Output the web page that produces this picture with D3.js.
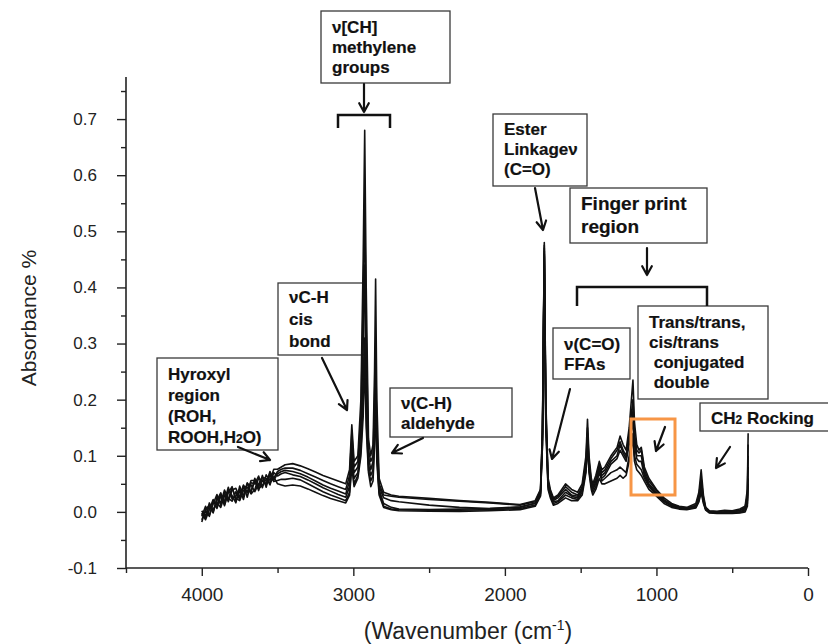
<!DOCTYPE html>
<html>
<head>
<meta charset="utf-8">
<title>FTIR spectra</title>
<script src="https://d3js.org/d3.v7.min.js"></script>
<style>
    html, body { margin: 0; padding: 0; background: #fff; }
    .axis text { font-family: "Liberation Sans", Arial, sans-serif; fill: #222; }
    .note text { font-family: "Liberation Sans", Arial, sans-serif; font-weight: 700; fill: #111; stroke: #111; stroke-width: 0.2px; }
</style>
</head>
<body>
<svg id="chart" width="828" height="644"></svg>
<script>
// wavenumber grid (cm-1), shared by all spectra
const wavenumber = [
    4000, 3975, 3950, 3925, 3900, 3875, 3850, 3825, 3800, 3775, 3750, 3725, 3700, 3675, 3650, 3625, 3600, 3575, 3550, 3525, 3500, 3475, 3450,
    3400, 3350, 3300, 3250, 3200, 3150, 3100, 3050,
    3025, 3010, 2995, 2970, 2950, 2935, 2925, 2915, 2900, 2885, 2870, 2860, 2853, 2845, 2830, 2800, 2750, 2700, 2500, 2300, 2100, 1900, 1800,
    1765, 1752, 1740, 1730, 1715, 1700, 1680, 1650, 1600, 1560, 1520, 1490, 1465, 1455, 1445, 1430, 1420, 1400, 1377, 1360, 1340, 1300,
    1260, 1240, 1220, 1200, 1180, 1155, 1145, 1130, 1115, 1100, 1080, 1050, 1000, 950, 900, 850, 800, 740, 720, 705, 690, 675,
    650, 600, 550, 500, 450, 415, 400, 395
];

// absorbance of the six overlaid samples
const sampleA = [
    -0.008, 0.010, -0.006, 0.014, 0.031, 0.012, 0.035, 0.018, 0.039, 0.042, 0.026, 0.048, 0.026, 0.052, 0.050, 0.064, 0.043, 0.066, 0.056, 0.076, 0.076, 0.080, 0.084,
    0.086, 0.082, 0.077, 0.071, 0.065, 0.06, 0.055, 0.05,
    0.075, 0.155, 0.09, 0.1, 0.2, 0.45, 0.68, 0.4, 0.13, 0.1, 0.12, 0.25, 0.415, 0.2, 0.06, 0.035, 0.03, 0.028, 0.024, 0.02, 0.017, 0.013, 0.02,
    0.04, 0.15, 0.48, 0.2, 0.06, 0.04, 0.025, 0.03, 0.05, 0.04, 0.035, 0.05, 0.1, 0.165, 0.1, 0.06, 0.05, 0.065, 0.09, 0.075, 0.08, 0.1,
    0.115, 0.135, 0.12, 0.11, 0.15, 0.235, 0.16, 0.12, 0.11, 0.115, 0.08, 0.06, 0.04, 0.025, 0.015, 0.01, 0.008, 0.015, 0.035, 0.075, 0.03, 0.008,
    0.002, 0.001, 0.003, 0.002, 0.005, 0.01, 0.04, 0.14
];
const sampleB = [
    0.002, -0.010, 0.016, 0.000, 0.020, 0.034, 0.013, 0.040, 0.029, 0.016, 0.046, 0.028, 0.052, 0.034, 0.060, 0.044, 0.065, 0.044, 0.070, 0.060, 0.072, 0.076, 0.078,
    0.078, 0.074, 0.068, 0.062, 0.056, 0.05, 0.045, 0.04,
    0.065, 0.14, 0.08, 0.09, 0.17, 0.38, 0.55, 0.32, 0.11, 0.09, 0.1, 0.2, 0.3, 0.15, 0.05, 0.03, 0.028, 0.026, 0.022, 0.019, 0.016, 0.012, 0.018,
    0.038, 0.14, 0.475, 0.19, 0.055, 0.035, 0.022, 0.028, 0.045, 0.035, 0.03, 0.045, 0.09, 0.15, 0.09, 0.055, 0.045, 0.06, 0.085, 0.07, 0.075, 0.095,
    0.11, 0.125, 0.11, 0.1, 0.14, 0.2, 0.14, 0.11, 0.105, 0.11, 0.075, 0.055, 0.038, 0.022, 0.013, 0.009, 0.007, 0.012, 0.03, 0.06, 0.025, 0.007,
    0.001, 0.0, 0.002, 0.001, 0.003, 0.008, 0.03, 0.12
];
const sampleC = [
    -0.018, 0.004, 0.012, -0.002, 0.026, 0.016, 0.039, 0.024, 0.019, 0.036, 0.022, 0.046, 0.044, 0.032, 0.040, 0.060, 0.055, 0.050, 0.072, 0.056, 0.068, 0.072, 0.074,
    0.072, 0.068, 0.062, 0.055, 0.048, 0.042, 0.037, 0.032,
    0.055, 0.12, 0.07, 0.08, 0.15, 0.3, 0.44, 0.26, 0.1, 0.075, 0.09, 0.18, 0.27, 0.13, 0.045, 0.025, 0.02, 0.018, 0.012, 0.008, 0.006, 0.008, 0.016,
    0.035, 0.14, 0.47, 0.18, 0.05, 0.03, 0.02, 0.025, 0.04, 0.03, 0.028, 0.04, 0.085, 0.14, 0.085, 0.05, 0.04, 0.055, 0.08, 0.065, 0.07, 0.09,
    0.1, 0.12, 0.105, 0.095, 0.13, 0.18, 0.13, 0.1, 0.1, 0.1, 0.07, 0.05, 0.035, 0.02, 0.012, 0.008, 0.006, 0.01, 0.025, 0.05, 0.02, 0.006,
    0.0, -0.001, 0.0, 0.0, 0.002, 0.006, 0.025, 0.1
];
const sampleD = [
    -0.002, -0.014, 0.004, 0.022, 0.006, 0.028, 0.019, 0.044, 0.023, 0.028, 0.040, 0.022, 0.050, 0.048, 0.036, 0.050, 0.061, 0.060, 0.048, 0.070, 0.064, 0.068, 0.070,
    0.066, 0.063, 0.057, 0.05, 0.043, 0.037, 0.031, 0.026,
    0.045, 0.1, 0.06, 0.07, 0.12, 0.24, 0.31, 0.2, 0.085, 0.065, 0.075, 0.16, 0.25, 0.11, 0.04, 0.015, 0.008, 0.005, 0.004, 0.005, 0.006, 0.009, 0.015,
    0.033, 0.13, 0.465, 0.17, 0.05, 0.03, 0.018, 0.02, 0.035, 0.028, 0.025, 0.04, 0.08, 0.13, 0.08, 0.05, 0.04, 0.05, 0.075, 0.06, 0.065, 0.085,
    0.095, 0.11, 0.1, 0.09, 0.12, 0.16, 0.12, 0.095, 0.09, 0.09, 0.065, 0.048, 0.032, 0.02, 0.012, 0.008, 0.006, 0.01, 0.022, 0.045, 0.02, 0.005,
    0.0, -0.002, -0.001, -0.001, 0.0, 0.004, 0.02, 0.08
];
const sampleE = [
    -0.014, 0.002, -0.008, 0.018, 0.012, 0.032, 0.011, 0.034, 0.045, 0.020, 0.036, 0.042, 0.034, 0.056, 0.056, 0.038, 0.057, 0.048, 0.066, 0.054, 0.056, 0.058, 0.058,
    0.06, 0.057, 0.05, 0.043, 0.036, 0.03, 0.025, 0.02,
    0.035, 0.09, 0.05, 0.065, 0.11, 0.2, 0.3, 0.17, 0.075, 0.055, 0.065, 0.14, 0.22, 0.1, 0.035, 0.01, 0.005, 0.004, 0.003, 0.003, 0.004, 0.006, 0.012,
    0.03, 0.12, 0.46, 0.16, 0.045, 0.028, 0.015, 0.018, 0.03, 0.025, 0.022, 0.035, 0.075, 0.125, 0.075, 0.045, 0.035, 0.045, 0.07, 0.055, 0.06, 0.07,
    0.075, 0.08, 0.075, 0.07, 0.1, 0.14, 0.1, 0.085, 0.08, 0.075, 0.06, 0.045, 0.03, 0.018, 0.01, 0.006, 0.005, 0.008, 0.02, 0.04, 0.018, 0.004,
    -0.001, -0.002, -0.002, -0.002, -0.001, 0.002, 0.015, 0.06
];
const sampleF = [
    -0.004, -0.006, 0.010, 0.004, 0.016, 0.008, 0.029, 0.022, 0.043, 0.024, 0.020, 0.038, 0.038, 0.038, 0.054, 0.042, 0.047, 0.058, 0.052, 0.062, 0.050, 0.048, 0.046,
    0.048, 0.046, 0.041, 0.035, 0.029, 0.024, 0.02, 0.016,
    0.03, 0.08, 0.045, 0.06, 0.1, 0.17, 0.27, 0.15, 0.07, 0.045, 0.055, 0.12, 0.2, 0.09, 0.03, 0.008, 0.004, 0.002, 0.001, 0.001, 0.002, 0.004, 0.01,
    0.028, 0.12, 0.455, 0.15, 0.04, 0.025, 0.012, 0.015, 0.025, 0.02, 0.02, 0.03, 0.07, 0.12, 0.07, 0.04, 0.03, 0.04, 0.06, 0.05, 0.05, 0.055,
    0.06, 0.065, 0.06, 0.065, 0.09, 0.13, 0.09, 0.075, 0.07, 0.065, 0.055, 0.04, 0.028, 0.015, 0.008, 0.005, 0.004, 0.007, 0.018, 0.035, 0.015, 0.003,
    -0.002, -0.003, -0.003, -0.003, -0.002, 0.0, 0.01, 0.05
];
const samples = [sampleF, sampleE, sampleD, sampleC, sampleB, sampleA];

// axis ticks
const xMajorTicks = [4000, 3000, 2000, 1000, 0];
const xMinorTicks = [4500, 3500, 2500, 1500, 500];
const yMajorTicks = [-0.1, 0.0, 0.1, 0.2, 0.3, 0.4, 0.5, 0.6, 0.7];
const yMinorTicks = [-0.05, 0.05, 0.15, 0.25, 0.35, 0.45, 0.55, 0.65, 0.75];

// annotation texts (parts between | are drawn small)
const noteMethylene = ["ν[CH]", "methylene", "groups"];
const noteHydroxyl = ["Hyroxyl", "region", "(ROH,", "ROOH,H|2|O)"];
const noteCis = ["νC-H", "cis", "bond"];
const noteAldehyde = ["ν(C-H)", "aldehyde"];
const noteEster = ["Ester", "Linkageν", "(C=O)"];
const noteFinger = ["Finger print", "region"];
const noteFFA = ["ν(C=O)", "FFAs"];
const noteTrans = ["Trans/trans,", "cis/trans", " conjugated", " double"];
const noteRocking = ["CH|2| Rocking"];

const svg = d3.select("#chart");
const axisFont = "'Liberation Sans', Arial, sans-serif";

const x = d3.scaleLinear().domain([4500, 0]).range([126, 808]);
const y = d3.scaleLinear().domain([-0.1, 0.775]).range([568, 77]);

// ---- axes ----
const axisG = svg.append("g").attr("class", "axis");

axisG.append("g")
    .attr("transform", `translate(0,${y(-0.1)})`)
    .call(d3.axisBottom(x).tickValues(xMajorTicks).tickSize(8).tickPadding(12).tickFormat(d => String(d)))
    .call(g => g.selectAll("text").attr("font-size", 19).attr("font-family", axisFont))
    .call(g => g.select(".domain").attr("stroke", "#222").attr("stroke-width", 1.6).attr("d", `M${x(4500)},0H${x(0)}`));
axisG.append("g")
    .attr("transform", `translate(0,${y(-0.1)})`)
    .call(d3.axisBottom(x).tickValues(xMinorTicks).tickSize(5).tickFormat(""))
    .call(g => g.select(".domain").remove());

axisG.append("g")
    .attr("transform", `translate(${x(4500)},0)`)
    .call(d3.axisLeft(y).tickValues(yMajorTicks).tickSize(9).tickPadding(20).tickFormat(d => d.toFixed(1)))
    .call(g => g.selectAll("text").attr("font-size", 17).attr("font-family", axisFont))
    .call(g => g.select(".domain").attr("stroke", "#222").attr("stroke-width", 1.6).attr("d", `M0,${y(0.775)}V${y(-0.1)}`));
axisG.append("g")
    .attr("transform", `translate(${x(4500)},0)`)
    .call(d3.axisLeft(y).tickValues(yMinorTicks).tickSize(5).tickFormat(""))
    .call(g => g.select(".domain").remove());

axisG.selectAll(".tick line").attr("stroke", "#222").attr("stroke-width", 1.4);

axisG.append("text")
    .attr("transform", "translate(36,318) rotate(-90)")
    .attr("text-anchor", "middle")
    .attr("font-family", axisFont)
    .attr("font-size", 21)
    .text("Absorbance %");

const xLabel = axisG.append("text")
    .attr("x", 468).attr("y", 639)
    .attr("text-anchor", "middle")
    .attr("font-family", axisFont)
    .attr("font-size", 23);
xLabel.append("tspan").text("(Wavenumber (cm");
xLabel.append("tspan").attr("dy", -9).attr("font-size", 14).text("-1");
xLabel.append("tspan").attr("dy", 9).text(")");

// ---- annotation boxes ----
const notes = svg.append("g").attr("class", "note");

// one text element per box, one line per row
function box(x0, y0, w, h, lines, base, lh, size) {
    notes.append("rect")
        .attr("x", x0).attr("y", y0).attr("width", w).attr("height", h)
        .attr("fill", "#fff").attr("stroke", "#3a3a3a").attr("stroke-width", 1.3);
    const t = notes.append("text")
        .attr("x", x0 + 11).attr("y", base)
        .attr("font-size", size)
        .attr("xml:space", "preserve");
    lines.forEach((ln, i) => {
        ln.split("|").forEach((part, k) => {
            const s = t.append("tspan").attr("font-size", k % 2 ? size * 0.7 : size).text(part);
            if (k === 0) s.attr("x", x0 + 11).attr("dy", i === 0 ? 0 : lh);
        });
    });
}

box(321, 11, 129, 72, noteMethylene, 33, 20, 17);
box(157, 358, 121, 92, noteHydroxyl, 380, 21, 17);
box(278, 283, 86, 72, noteCis, 303, 22, 17);
box(390, 388, 122, 49, noteAldehyde, 409, 20, 17);
box(493, 114, 94, 72, noteEster, 135, 20, 17);
box(570, 188, 137, 55, noteFinger, 210, 23, 19);
box(553, 328, 77, 51, noteFFA, 350, 20, 17);
box(638, 306, 130, 93, noteTrans, 328, 20, 17);
box(700, 403, 140, 28, noteRocking, 424, 20, 17);

// ---- spectra ----
const line = d3.line()
    .x(d => x(d[0]))
    .y(d => y(d[1]));

svg.append("g")
    .selectAll("path")
    .data(samples)
    .join("path")
    .attr("d", s => line(d3.zip(wavenumber, s)))
    .attr("fill", "none")
    .attr("stroke", "#111")
    .attr("stroke-width", 1.6)
    .attr("stroke-linejoin", "round");

// ---- brackets, highlight and arrows ----
const marks = svg.append("g");

marks.append("path")
    .attr("d", "M338,128V115H390V128")
    .attr("fill", "none").attr("stroke", "#111").attr("stroke-width", 2.5);
marks.append("path")
    .attr("d", "M577,306V287H707V306")
    .attr("fill", "none").attr("stroke", "#111").attr("stroke-width", 2.5);

marks.append("rect")
    .attr("x", 631).attr("y", 419).attr("width", 44).attr("height", 76)
    .attr("fill", "none").attr("stroke", "#f79646").attr("stroke-width", 3);

function arrow(x1, y1, x2, y2) {
    const a = Math.atan2(y2 - y1, x2 - x1);
    const L = 10, spread = 0.5;
    marks.append("path")
        .attr("d", `M${x1},${y1}L${x2},${y2}` +
            `M${x2 - L * Math.cos(a - spread)},${y2 - L * Math.sin(a - spread)}L${x2},${y2}` +
            `L${x2 - L * Math.cos(a + spread)},${y2 - L * Math.sin(a + spread)}`)
        .attr("fill", "none").attr("stroke", "#111").attr("stroke-width", 2.2)
        .attr("stroke-linecap", "round").attr("stroke-linejoin", "round");
}

arrow(364, 84, 364, 112);
arrow(238, 447, 270, 460);
arrow(322, 358, 347, 410);
arrow(423, 438, 392, 453);
arrow(535, 188, 543, 230);
arrow(647, 248, 647, 275);
arrow(570, 389, 552, 459);
arrow(665, 427, 656, 451);
arrow(730, 447, 716, 468);
</script>
</body>
</html>
